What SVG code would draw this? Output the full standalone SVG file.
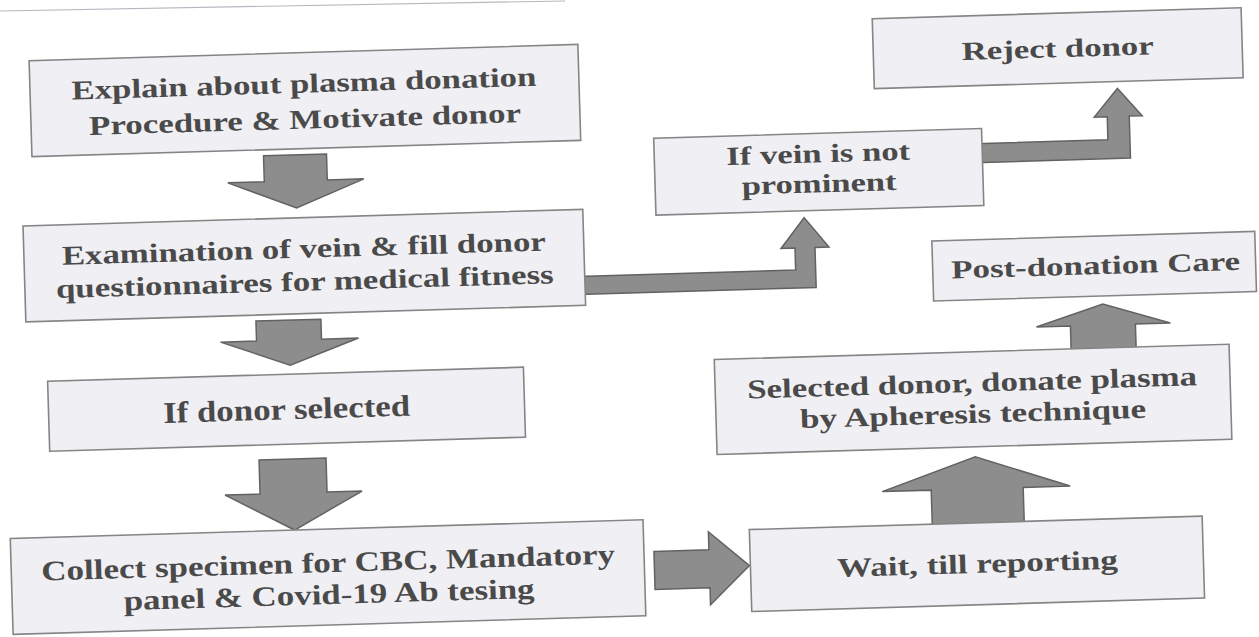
<svg xmlns="http://www.w3.org/2000/svg" width="1259" height="637" viewBox="0 0 1259 637">
<style>
.box{fill:#f0eff3;stroke:#858585;stroke-width:1.6}
.t{font-family:"Liberation Serif","Times New Roman",serif;font-weight:bold;fill:#4a4a4a;text-anchor:middle}
.arr{fill:#8d8d8d;stroke:#626262;stroke-width:1.5;stroke-linejoin:miter}
.edge{stroke:#b8b6c0;stroke-width:1.2;fill:none}
</style>
<rect width="1259" height="637" fill="#ffffff"/>
<line class="edge" x1="0" y1="11" x2="565" y2="1"/>
<g transform="rotate(-1.7 630 318)">
<g id="connectors">
<polygon class="arr" points="268.5,145 331.5,145 331.5,171 368,171 300,198 232,171 268.5,171"/>
<polygon class="arr" points="256,310 321,310 321,330 358,330 289,355 220,330 256,330"/>
<polygon class="arr" points="255,449 322,449 322,483 357,483 288.5,520 220,483 255,483"/>
<polygon class="arr" points="647,552 702,552 702,534 742,569 702,607 702,590 647,590"/>
<polygon class="arr" points="926,537 926,499 877,499 971,467 1065,499 1018,499 1018,537"/>
<polygon class="arr" points="1070,364 1070,339 1036,339 1103,318 1170,339 1135,339 1135,364"/>
<path class="arr" d="M580,275 L797,275 L797,253 L783,253 L807,223 L831,253 L817,253 L817,293 L580,293 Z"/>
<path class="arr" d="M980,154 L1113,154 L1113,131 L1100,131 L1124,103 L1148,131 L1135,131 L1135,173 L980,173 Z"/>
</g>
<g id="n1"><rect class="box" x="37" y="43" width="549" height="96"/>
<text class="t" font-size="27" x="311" y="83" textLength="465" lengthAdjust="spacingAndGlyphs">Explain about plasma donation</text>
<text class="t" font-size="27" x="311" y="119" textLength="432" lengthAdjust="spacingAndGlyphs">Procedure &amp; Motivate donor</text></g>
<g id="n2"><rect class="box" x="26" y="208" width="560" height="96"/>
<text class="t" font-size="27" x="306" y="248" textLength="484" lengthAdjust="spacingAndGlyphs">Examination of vein &amp; fill donor</text>
<text class="t" font-size="27" x="306" y="281" textLength="498" lengthAdjust="spacingAndGlyphs">questionnaires for medical fitness</text></g>
<g id="n3"><rect class="box" x="46" y="364" width="476" height="70"/>
<text class="t" font-size="30" x="284" y="409" textLength="247" lengthAdjust="spacingAndGlyphs">If donor selected</text></g>
<g id="n4"><rect class="box" x="4" y="520" width="633" height="96"/>
<text class="t" font-size="28" x="321" y="563" textLength="574" lengthAdjust="spacingAndGlyphs">Collect specimen for CBC, Mandatory</text>
<text class="t" font-size="28" x="321" y="595" textLength="411" lengthAdjust="spacingAndGlyphs">panel &amp; Covid-19 Ab tesing</text></g>
<g id="n5"><rect class="box" x="659" y="139" width="328" height="77"/>
<text class="t" font-size="26" x="823" y="168" textLength="184" lengthAdjust="spacingAndGlyphs">If vein is not</text>
<text class="t" font-size="26" x="823" y="198" textLength="155" lengthAdjust="spacingAndGlyphs">prominent</text></g>
<g id="n6"><rect class="box" x="881" y="26" width="369" height="70"/>
<text class="t" font-size="26" x="1065.5" y="70" textLength="192" lengthAdjust="spacingAndGlyphs">Reject donor</text></g>
<g id="n7"><rect class="box" x="934" y="250" width="323" height="60"/>
<text class="t" font-size="26" x="1097" y="288" textLength="289" lengthAdjust="spacingAndGlyphs">Post-donation Care</text></g>
<g id="n8"><rect class="box" x="713" y="362" width="515" height="95"/>
<text class="t" font-size="27" x="970" y="402" textLength="450" lengthAdjust="spacingAndGlyphs">Selected donor, donate plasma</text>
<text class="t" font-size="27" x="970" y="433" textLength="346" lengthAdjust="spacingAndGlyphs">by Apheresis technique</text></g>
<g id="n9"><rect class="box" x="743" y="533" width="453" height="82"/>
<text class="t" font-size="27" x="970" y="583" textLength="281" lengthAdjust="spacingAndGlyphs">Wait, till reporting</text></g>
</g>
</svg>
